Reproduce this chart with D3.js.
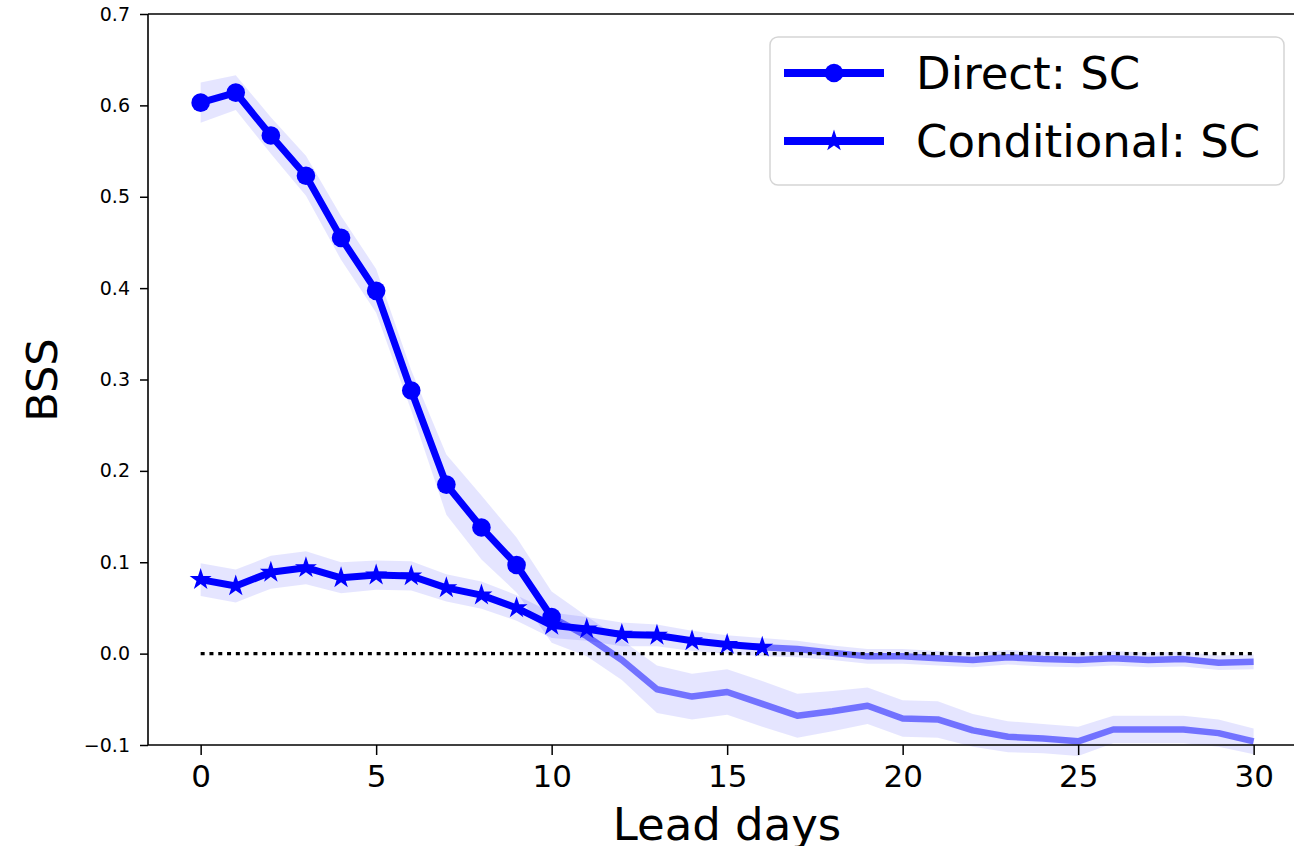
<!DOCTYPE html>
<html>
<head>
<meta charset="UTF-8">
<title>BSS vs lead days</title>
<script src="https://d3js.org/d3.v7.min.js"></script>
<style>
  body { margin: 0; background: #fff; }
  svg { display: block; font-family: "DejaVu Sans", sans-serif; }
</style>
</head>
<body>
<svg width="1294" height="846"></svg>
<script>
// lead days 0..30
const leadDays = d3.range(0, 31);

// Direct: SC (markers 0..10, then faded continuation)
const directMean = [0.603, 0.614, 0.567, 0.523, 0.455, 0.397, 0.288, 0.185, 0.138, 0.097,
  0.040, 0.019, -0.007, -0.039, -0.047, -0.042, -0.055, -0.068, -0.063, -0.057,
  -0.071, -0.072, -0.084, -0.091, -0.093, -0.096, -0.083, -0.083, -0.083, -0.087, -0.096];
const directSpread = [0.022, 0.019, 0.02, 0.022, 0.024, 0.024, 0.022, 0.033, 0.035, 0.03,
  0.028, 0.022, 0.022, 0.026, 0.025, 0.025, 0.025, 0.024, 0.022, 0.02,
  0.02, 0.02, 0.018, 0.017, 0.016, 0.016, 0.015, 0.015, 0.015, 0.015, 0.014];

// Conditional: SC (markers 0..16, then faded continuation)
const condMean = [0.081, 0.074, 0.089, 0.094, 0.083, 0.086, 0.085, 0.072, 0.064, 0.050,
  0.031, 0.027, 0.021, 0.020, 0.014, 0.010, 0.007, 0.005, 0.001, -0.003,
  -0.003, -0.005, -0.007, -0.004, -0.006, -0.007, -0.005, -0.007, -0.006, -0.010, -0.009];
const condSpread = [0.018, 0.018, 0.018, 0.018, 0.017, 0.016, 0.016, 0.015, 0.015, 0.014,
  0.014, 0.013, 0.013, 0.012, 0.011, 0.01, 0.01, 0.009, 0.008, 0.008,
  0.008, 0.008, 0.008, 0.008, 0.008, 0.008, 0.008, 0.008, 0.008, 0.008, 0.008];

const directLastMarked = 10;
const condLastMarked = 16;

const xTicks = [0, 5, 10, 15, 20, 25, 30];
const yTicks = [-0.1, 0.0, 0.1, 0.2, 0.3, 0.4, 0.5, 0.6, 0.7];
const legendLabels = ["Direct: SC", "Conditional: SC"];

const svg = d3.select("svg");
const mLeft = 148, mTop = 14, mBottom = 745;

const x = d3.scaleLinear().domain([-1.5, 31.5]).range([mLeft, mLeft + 33 * 35.1]);
const y = d3.scaleLinear().domain([-0.1, 0.7]).range([mBottom, mTop]);

const plot = svg.append("g");

function series(mean, spread) {
  return leadDays.map((d, i) => ({ x: d, y: mean[i], lo: mean[i] - spread[i], hi: mean[i] + spread[i] }));
}
const direct = series(directMean, directSpread);
const cond = series(condMean, condSpread);

const area = d3.area().x(d => x(d.x)).y0(d => y(d.lo)).y1(d => y(d.hi));
const line = d3.line().x(d => x(d.x)).y(d => y(d.y));

// shaded bands
[direct, cond].forEach(s => {
  plot.append("path").attr("d", area(s))
    .attr("fill", "blue").attr("fill-opacity", 0.1);
});

// faded continuation lines
plot.append("path").attr("d", line(direct.slice(directLastMarked)))
  .attr("fill", "none").attr("stroke", "blue").attr("stroke-opacity", 0.5)
  .attr("stroke-width", 6.5).attr("stroke-linejoin", "round");
plot.append("path").attr("d", line(cond.slice(condLastMarked)))
  .attr("fill", "none").attr("stroke", "blue").attr("stroke-opacity", 0.5)
  .attr("stroke-width", 6.5).attr("stroke-linejoin", "round");

// zero reference
plot.append("line")
  .attr("x1", x(0)).attr("x2", x(30)).attr("y1", y(0)).attr("y2", y(0))
  .attr("stroke", "black").attr("stroke-width", 3.4).attr("stroke-dasharray", "4,4.8");

// solid lines with markers
const star = d3.symbol().type(d3.symbolStar).size(150);

const dSolid = direct.slice(0, directLastMarked + 1);
plot.append("path").attr("d", line(dSolid))
  .attr("fill", "none").attr("stroke", "blue").attr("stroke-width", 7).attr("stroke-linejoin", "round");
plot.selectAll(".dot").data(dSolid).enter().append("circle")
  .attr("cx", d => x(d.x)).attr("cy", d => y(d.y)).attr("r", 9.3).attr("fill", "blue");

const cSolid = cond.slice(0, condLastMarked + 1);
plot.append("path").attr("d", line(cSolid))
  .attr("fill", "none").attr("stroke", "blue").attr("stroke-width", 7).attr("stroke-linejoin", "round");
plot.selectAll(".star").data(cSolid).enter().append("path")
  .attr("d", star).attr("transform", d => `translate(${x(d.x)},${y(d.y)})`)
  .attr("fill", "blue");

// axes
const fmt = d => d3.format(".1f")(d).replace("-", "\u2212");
const yAxis = svg.append("g").attr("transform", `translate(${mLeft},0)`)
  .call(d3.axisLeft(y).tickValues(yTicks).tickFormat(fmt).tickSize(8).tickPadding(10));
yAxis.selectAll("text").attr("font-size", 19).attr("fill", "#000").attr("font-family", "DejaVu Sans");

const xAxis = svg.append("g").attr("transform", `translate(0,${mBottom})`)
  .call(d3.axisBottom(x).tickValues(xTicks).tickFormat(d3.format("d")).tickSize(10).tickPadding(10));
xAxis.selectAll("text").attr("font-size", 31).attr("fill", "#000").attr("font-family", "DejaVu Sans");

[yAxis, xAxis].forEach(a => {
  a.select(".domain").remove();
  a.selectAll("line").attr("stroke", "#000").attr("stroke-width", 1.5);
});

// spines
svg.append("line").attr("x1", mLeft).attr("x2", 1294).attr("y1", mTop).attr("y2", mTop)
  .attr("stroke", "#000").attr("stroke-width", 1.6);
svg.append("line").attr("x1", mLeft).attr("x2", 1294).attr("y1", mBottom).attr("y2", mBottom)
  .attr("stroke", "#000").attr("stroke-width", 1.6);
svg.append("line").attr("x1", mLeft).attr("x2", mLeft).attr("y1", mTop).attr("y2", mBottom)
  .attr("stroke", "#000").attr("stroke-width", 1.6);

// axis labels
svg.append("text").attr("x", 727).attr("y", 840).attr("text-anchor", "middle")
  .attr("font-size", 45).text("Lead days");
svg.append("text").attr("transform", "translate(57,380) rotate(-90)")
  .attr("text-anchor", "middle").attr("font-size", 43).text("BSS");

// legend
const lg = svg.append("g");
lg.append("rect").attr("x", 770).attr("y", 37).attr("width", 514).attr("height", 148)
  .attr("rx", 8).attr("fill", "#fff").attr("fill-opacity", 0.8)
  .attr("stroke", "#d5d5d5").attr("stroke-width", 1.5);
const rows = [73, 141];
legendLabels.forEach((lab, i) => {
  lg.append("line").attr("x1", 784).attr("x2", 884).attr("y1", rows[i]).attr("y2", rows[i])
    .attr("stroke", "blue").attr("stroke-width", 8);
  if (i === 0) {
    lg.append("circle").attr("cx", 834).attr("cy", rows[i]).attr("r", 9.3).attr("fill", "blue");
  } else {
    lg.append("path").attr("d", star).attr("transform", `translate(834,${rows[i]})`).attr("fill", "blue");
  }
  lg.append("text").attr("x", 916).attr("y", rows[i]).attr("dy", "0.36em")
    .attr("font-size", 45).text(lab);
});
</script>
</body>
</html>
